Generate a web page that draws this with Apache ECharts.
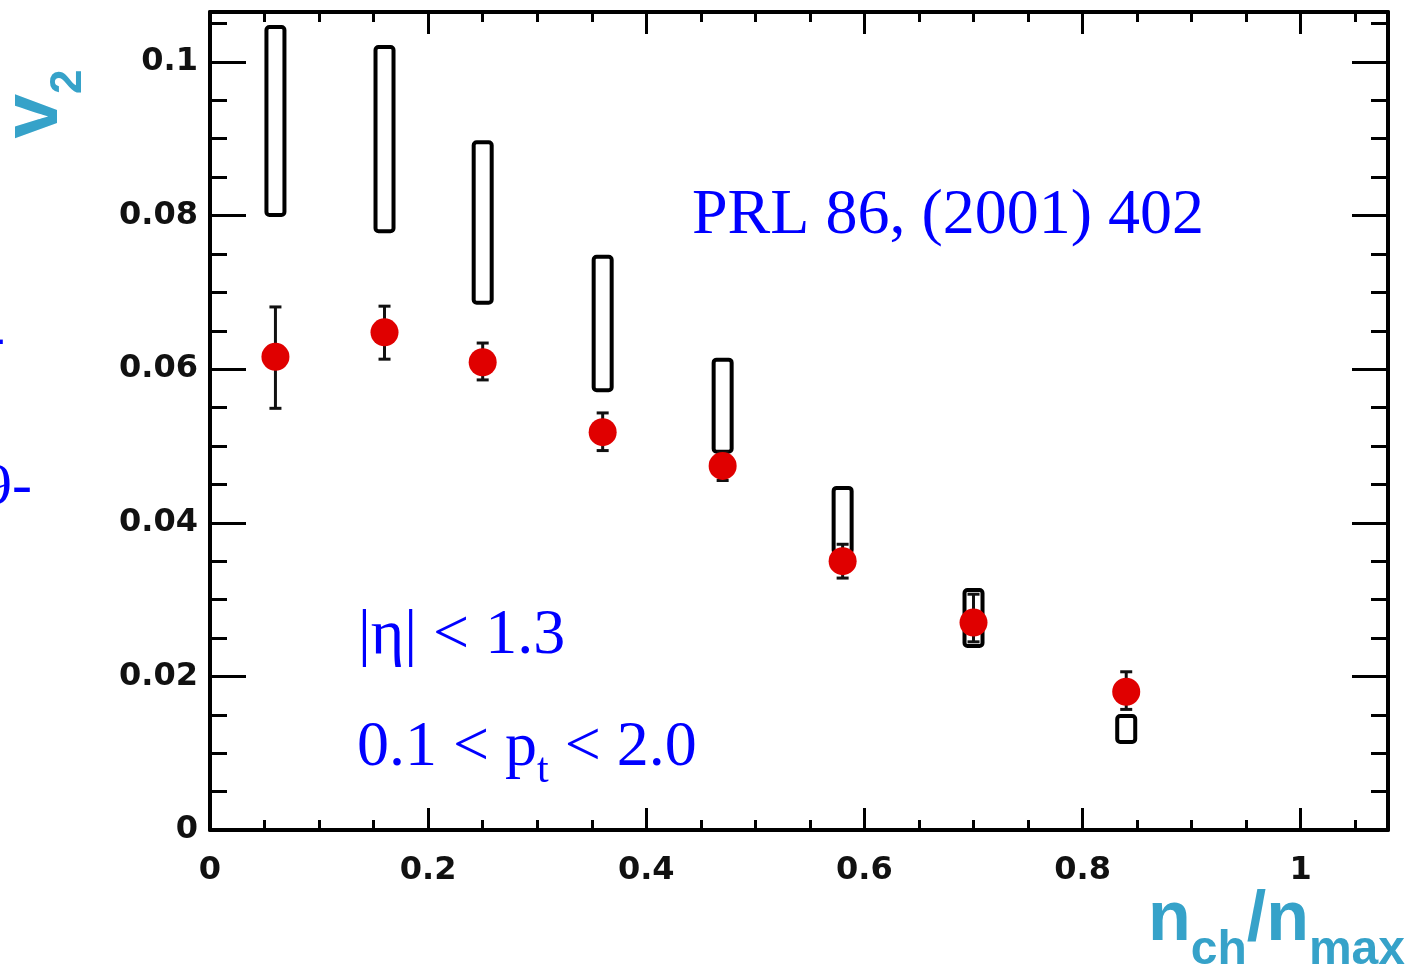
<!DOCTYPE html>
<html>
<head>
<meta charset="utf-8">
<script src="https://cdn.jsdelivr.net/npm/echarts@6/dist/echarts.min.js"></script>
<style>
    html, body { margin: 0; padding: 0; background: #fff; }
    #main { width: 1411px; height: 969px; }
</style>
</head>
<body>
<div id="main"></div>
<script>
// data
var nch = [0.06, 0.16, 0.25, 0.36, 0.47, 0.58, 0.70, 0.84];
var v2 = [0.0616, 0.0648, 0.0609, 0.0518, 0.0474, 0.0350, 0.0270, 0.0180];
var errLow = [0.0549, 0.0613, 0.0586, 0.0494, 0.0455, 0.0328, 0.0245, 0.0157];
var errHigh = [0.0681, 0.0682, 0.0634, 0.0543, 0.0492, 0.0372, 0.0307, 0.0206];
var sysLow = [0.0798, 0.0777, 0.0684, 0.0570, 0.0490, 0.0358, 0.0237, 0.0112];
var sysHigh = [0.1048, 0.1022, 0.0898, 0.0749, 0.0615, 0.0448, 0.0315, 0.0151];

var xTickLabels = ['0', '0.2', '0.4', '0.6', '0.8', '1'];
var yTickLabels = ['0', '0.02', '0.04', '0.06', '0.08', '0.1'];

var teal = '#36a2c9';
var blue = '#0000ff';
var labelFont = {
    fontFamily: 'DejaVu Sans',
    fontWeight: 'bold',
    fontSize: 32,
    color: '#111'
};

function xAxisOf(pos, interval, tickLen, major) {
    return {
        type: 'value',
        position: pos,
        min: 0,
        max: 1.08,
        interval: interval,
        axisLine: { show: major, onZero: false, lineStyle: { color: '#000', width: 4 } },
        axisTick: { inside: true, length: tickLen, lineStyle: { color: '#000', width: 3 } },
        axisLabel: major && pos == 'bottom' ? Object.assign({
            margin: 25,
            showMaxLabel: false,
            formatter: function (v) { return xTickLabels[Math.round(v / 0.2)]; }
        }, labelFont) : { show: false },
        splitLine: { show: false }
    };
}

function yAxisOf(pos, interval, tickLen, major) {
    return {
        type: 'value',
        position: pos,
        min: 0,
        max: 0.1065,
        interval: interval,
        axisLine: { show: major, onZero: false, lineStyle: { color: '#000', width: 4 } },
        axisTick: { inside: true, length: tickLen, lineStyle: { color: '#000', width: 3 } },
        axisLabel: major && pos == 'left' ? Object.assign({
            margin: 12,
            showMaxLabel: false,
            formatter: function (v) { return yTickLabels[Math.round(v / 0.02)]; }
        }, labelFont) : { show: false },
        splitLine: { show: false }
    };
}

var sysData = nch.map(function (x, i) { return [x, sysLow[i], sysHigh[i]]; });
var errData = nch.map(function (x, i) { return [x, errLow[i], errHigh[i]]; });
var ptData = nch.map(function (x, i) { return [x, v2[i]]; });

var myChart = echarts.init(document.getElementById('main'), null, { renderer: 'canvas' });
var option = {
    animation: false,
    backgroundColor: '#fff',
    grid: { left: 210, right: 23, top: 12, bottom: 139 },
    xAxis: [
        xAxisOf('bottom', 0.2, 22, true),
        xAxisOf('bottom', 0.05, 10, false),
        xAxisOf('top', 0.2, 22, true),
        xAxisOf('top', 0.05, 10, false)
    ],
    yAxis: [
        yAxisOf('left', 0.02, 36, true),
        yAxisOf('left', 0.005, 17, false),
        yAxisOf('right', 0.02, 36, true),
        yAxisOf('right', 0.005, 17, false)
    ],
    series: [{
        // systematic error boxes
        type: 'custom',
        data: sysData,
        z: 2,
        renderItem: function (params, api) {
            var top = api.coord([api.value(0), api.value(2)]);
            var bot = api.coord([api.value(0), api.value(1)]);
            return {
                type: 'rect',
                shape: { x: top[0] - 9, y: top[1] + 2, width: 18, height: bot[1] - top[1] - 4, r: 3 },
                style: { fill: 'none', stroke: '#000', lineWidth: 4 }
            };
        }
    }, {
        // statistical error bars
        type: 'custom',
        data: errData,
        z: 3,
        renderItem: function (params, api) {
            var hi = api.coord([api.value(0), api.value(2)]);
            var lo = api.coord([api.value(0), api.value(1)]);
            var st = { stroke: '#111', lineWidth: 3 };
            return {
                type: 'group',
                children: [
                    { type: 'line', shape: { x1: hi[0], y1: hi[1], x2: lo[0], y2: lo[1] }, style: st },
                    { type: 'line', shape: { x1: hi[0] - 6, y1: hi[1], x2: hi[0] + 6, y2: hi[1] }, style: st },
                    { type: 'line', shape: { x1: lo[0] - 6, y1: lo[1], x2: lo[0] + 6, y2: lo[1] }, style: st }
                ]
            };
        }
    }, {
        type: 'scatter',
        data: ptData,
        z: 4,
        symbol: 'circle',
        symbolSize: 28,
        itemStyle: { color: '#e00000', opacity: 1 }
    }],
    graphic: [{
        // y axis title, rotated
        type: 'text',
        x: 43,
        y: 104,
        rotation: Math.PI / 2,
        style: {
            text: '{v|v}{s|2}',
            align: 'center',
            verticalAlign: 'middle',
            rich: {
                v: { fontFamily: 'Liberation Sans', fontWeight: 'bold', fontSize: 80, lineHeight: 80, verticalAlign: 'top', fill: teal },
                s: { fontFamily: 'Liberation Sans', fontWeight: 'bold', fontSize: 44, lineHeight: 96, verticalAlign: 'bottom', fill: teal }
            }
        }
    }, {
        // x axis title
        type: 'text',
        x: 1405,
        y: 886,
        style: {
            text: '{a|n}{b|ch}{a|/n}{b|max}',
            align: 'right',
            verticalAlign: 'top',
            rich: {
                a: { fontFamily: 'Liberation Sans', fontWeight: 'bold', fontSize: 70, lineHeight: 70, verticalAlign: 'top', fill: teal },
                b: { fontFamily: 'Liberation Sans', fontWeight: 'bold', fontSize: 48, lineHeight: 89, verticalAlign: 'bottom', fill: teal }
            }
        }
    }, {
        type: 'text',
        x: 692,
        y: 216,
        style: {
            text: 'PRL 86, (2001) 402',
            fontFamily: 'Liberation Serif',
            fontSize: 64,
            fill: blue,
            align: 'left',
            verticalAlign: 'middle'
        }
    }, {
        type: 'text',
        x: 358,
        y: 636,
        style: {
            text: '|η| < 1.3',
            fontFamily: 'Liberation Serif',
            fontSize: 64,
            fill: blue,
            align: 'left',
            verticalAlign: 'middle'
        }
    }, {
        type: 'text',
        x: 357,
        y: 716,
        style: {
            text: '{m|0.1 < p}{t|t}{m| < 2.0}',
            align: 'left',
            verticalAlign: 'top',
            rich: {
                m: { fontFamily: 'Liberation Serif', fontSize: 64, lineHeight: 64, verticalAlign: 'top', fill: blue },
                t: { fontFamily: 'Liberation Serif', fontSize: 42, lineHeight: 76, verticalAlign: 'bottom', fill: blue }
            }
        }
    }, {
        // cut-off text at the left edge
        type: 'text',
        x: 32,
        y: 488,
        style: {
            text: '9-',
            fontFamily: 'Liberation Serif',
            fontSize: 60,
            fill: blue,
            align: 'right',
            verticalAlign: 'middle'
        }
    }, {
        type: 'text',
        x: 5,
        y: 340,
        style: {
            text: '-',
            fontFamily: 'Liberation Serif',
            fontSize: 60,
            fill: blue,
            align: 'right',
            verticalAlign: 'middle'
        }
    }]
};
myChart.setOption(option);
</script>
</body>
</html>
